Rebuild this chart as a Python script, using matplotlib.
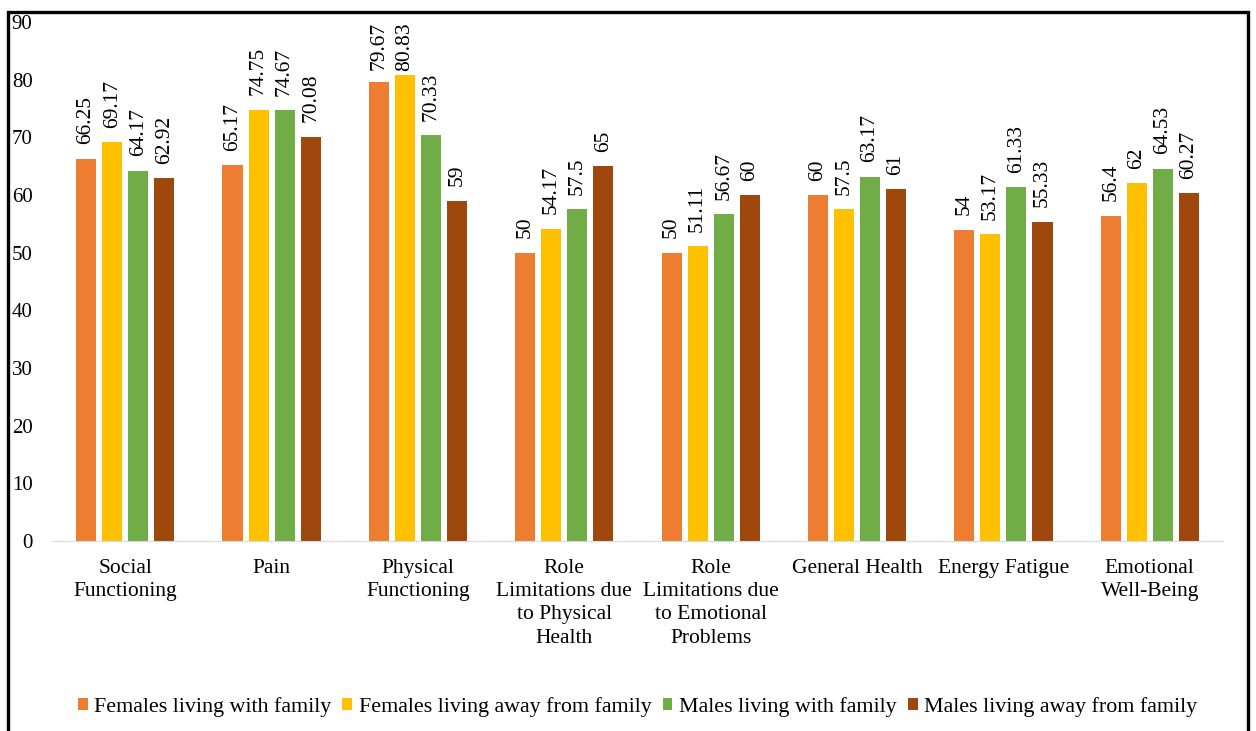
import matplotlib.pyplot as plt
import numpy as np
from matplotlib.patches import Rectangle

plt.rcParams['font.family'] = ['Liberation Serif', 'DejaVu Serif']

categorias = ["Social\nFunctioning", "Pain", "Physical\nFunctioning",
              "Role\nLimitations due\nto Physical\nHealth",
              "Role\nLimitations due\nto Emotional\nProblems",
              "General Health", "Energy Fatigue", "Emotional\nWell-Being"]

series = ["Females living with family", "Females living away from family",
          "Males living with family", "Males living away from family"]

fem_con = [66.25, 65.17, 79.67, 50, 50, 60, 54, 56.4]
fem_lejos = [69.17, 74.75, 80.83, 54.17, 51.11, 57.5, 53.17, 62]
mas_con = [64.17, 74.67, 70.33, 57.5, 56.67, 63.17, 61.33, 64.53]
mas_lejos = [62.92, 70.08, 59, 65, 60, 61, 55.33, 60.27]

valores = [fem_con, fem_lejos, mas_con, mas_lejos]
etiquetas = [
    ["66.25", "65.17", "79.67", "50", "50", "60", "54", "56.4"],
    ["69.17", "74.75", "80.83", "54.17", "51.11", "57.5", "53.17", "62"],
    ["64.17", "74.67", "70.33", "57.5", "56.67", "63.17", "61.33", "64.53"],
    ["62.92", "70.08", "59", "65", "60", "61", "55.33", "60.27"],
]
colores = ["#ED7D31", "#FFC000", "#70AD47", "#9E480E"]

fig = plt.figure(figsize=(12.56, 7.31), dpi=100)
ax = fig.add_axes([0.0414, 0.26, 0.9323, 0.71])

x = np.arange(len(categorias))
ancho = 0.137
paso = 0.178
for i, (vals, nombre, col) in enumerate(zip(valores, series, colores)):
    pos = x + (i - 1.5) * paso
    ax.bar(pos, vals, width=ancho, color=col, label=nombre)
    for p, v, t in zip(pos, vals, etiquetas[i]):
        # como en Excel: la etiqueta no sale del area del grafico
        if v > 78:
            ax.text(p, 90, t, rotation=90, ha='center', va='top', fontsize=15.5)
        else:
            ax.text(p, v + 2.5, t, rotation=90, ha='center', va='bottom', fontsize=15.5)

ax.set_ylim(0, 90)
ax.set_xlim(-0.5, len(categorias) - 0.5)
ax.set_yticks(range(0, 91, 10))
ax.set_xticks(x)
ax.set_xticklabels(categorias, fontsize=15.5, linespacing=1.3)
ax.tick_params(axis='y', length=0, labelsize=15, pad=14)
ax.tick_params(axis='x', length=0, pad=13)
for s in ['top', 'right', 'left']:
    ax.spines[s].set_visible(False)
ax.spines['bottom'].set_color('#D9D9D9')

ax.legend(loc='center', bbox_to_anchor=(0.5, -0.32), ncol=4, frameon=False,
          fontsize=15.8, handlelength=0.45, handleheight=0.45, handletextpad=0.3,
          columnspacing=0.5)

fig.patches.append(Rectangle((0.0065, -0.05), 0.987, 1.034, transform=fig.transFigure,
                             fill=False, edgecolor='black', linewidth=2.4))

fig.savefig("out.png", dpi=100)
